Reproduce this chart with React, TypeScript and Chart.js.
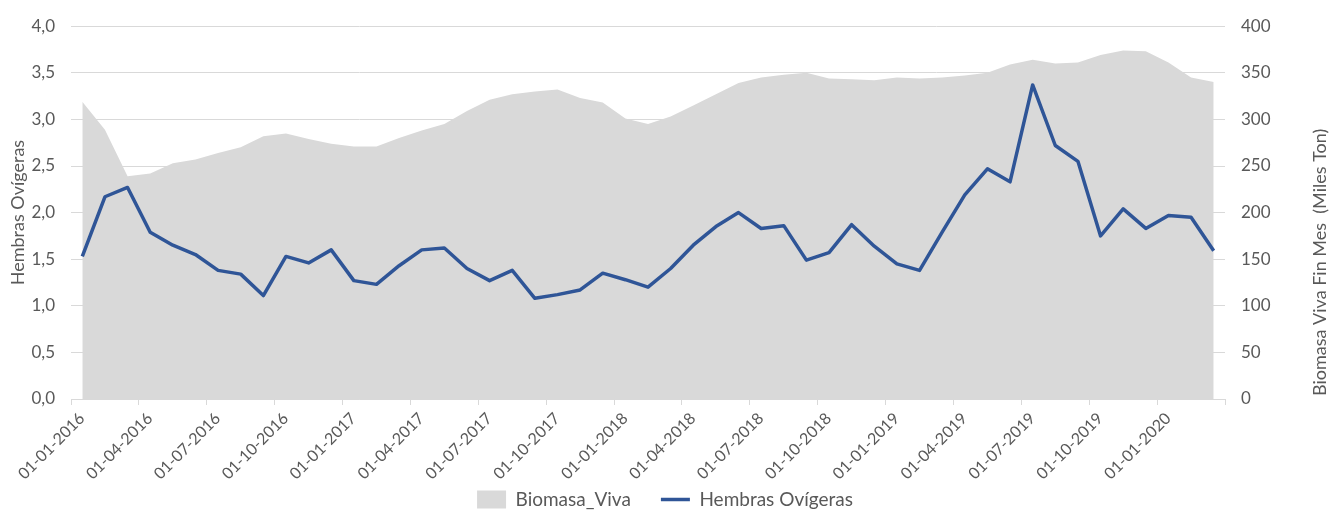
import React, { useEffect, useRef } from 'react';
import { Chart, registerables } from 'chart.js';

Chart.register(...registerables);

const months = [
  '01-01-2016', '01-02-2016', '01-03-2016', '01-04-2016', '01-05-2016', '01-06-2016',
  '01-07-2016', '01-08-2016', '01-09-2016', '01-10-2016', '01-11-2016', '01-12-2016',
  '01-01-2017', '01-02-2017', '01-03-2017', '01-04-2017', '01-05-2017', '01-06-2017',
  '01-07-2017', '01-08-2017', '01-09-2017', '01-10-2017', '01-11-2017', '01-12-2017',
  '01-01-2018', '01-02-2018', '01-03-2018', '01-04-2018', '01-05-2018', '01-06-2018',
  '01-07-2018', '01-08-2018', '01-09-2018', '01-10-2018', '01-11-2018', '01-12-2018',
  '01-01-2019', '01-02-2019', '01-03-2019', '01-04-2019', '01-05-2019', '01-06-2019',
  '01-07-2019', '01-08-2019', '01-09-2019', '01-10-2019', '01-11-2019', '01-12-2019',
  '01-01-2020', '01-02-2020', '01-03-2020',
];

const tickLabels = [
  '01-01-2016', '01-04-2016', '01-07-2016', '01-10-2016',
  '01-01-2017', '01-04-2017', '01-07-2017', '01-10-2017',
  '01-01-2018', '01-04-2018', '01-07-2018', '01-10-2018',
  '01-01-2019', '01-04-2019', '01-07-2019', '01-10-2019',
  '01-01-2020',
];

const hembras = [
  1.53, 2.17, 2.27, 1.79, 1.65, 1.55, 1.38, 1.34, 1.11, 1.53,
  1.46, 1.60, 1.27, 1.23, 1.43, 1.60, 1.62, 1.40, 1.27, 1.38,
  1.08, 1.12, 1.17, 1.35, 1.28, 1.20, 1.40, 1.65, 1.85, 2.00,
  1.83, 1.86, 1.49, 1.57, 1.87, 1.64, 1.45, 1.38, 1.79, 2.19,
  2.47, 2.33, 3.37, 2.72, 2.55, 1.75, 2.04, 1.83, 1.97, 1.95, 1.59,
];

const biomasa = [
  319, 289, 239, 242, 253, 257, 264, 270, 282, 285,
  279, 274, 271, 271, 280, 288, 295, 309, 321, 327,
  330, 332, 323, 318, 301, 295, 303, 315, 327, 339,
  345, 348, 350, 344, 343, 342, 345, 344, 345, 347,
  350, 359, 364, 360, 361, 369, 374, 373, 361, 345, 340,
];

const LEFT_TITLE = 'Hembras Ovígeras';
const RIGHT_TITLE = 'Biomasa Viva Fin Mes  (Miles Ton)';
const TEXT = '#595959';
const GRID = '#D9D9D9';
const AREA = '#D9D9D9';
const BLUE = '#2F5597';
const FONT = 'Lato';

export default function App() {
  const ref = useRef<HTMLCanvasElement>(null);

  useEffect(() => {
    if (!ref.current) return;
    const rightTitle = {
      id: 'rightTitle',
      afterDraw(chart: any) {
        const { ctx, chartArea } = chart;
        const s = chart.scales.y1;
        ctx.save();
        ctx.font = `18px ${FONT}`;
        ctx.fillStyle = TEXT;
        ctx.translate(s.right - 10, chartArea.bottom - 3);
        ctx.rotate(-Math.PI / 2);
        ctx.textAlign = 'left';
        ctx.textBaseline = 'middle';
        ctx.fillText(RIGHT_TITLE, 0, 0);
        ctx.restore();
      },
    };

    const chart = new Chart(ref.current, {
      type: 'line',
      data: {
        datasets: [
          {
            label: 'Biomasa_Viva',
            data: months.map((_, i) => ({ x: i, y: biomasa[i] })),
            yAxisID: 'y1',
            backgroundColor: AREA,
            borderColor: 'rgba(0,0,0,0)',
            borderWidth: 0,
            fill: 'origin',
            pointRadius: 0,
            pointStyle: 'rect',
          },
          {
            label: 'Hembras Ovígeras',
            data: months.map((_, i) => ({ x: i, y: hembras[i] })),
            yAxisID: 'y',
            borderColor: BLUE,
            backgroundColor: BLUE,
            borderWidth: 3.5,
            borderJoinStyle: 'round',
            fill: false,
            pointRadius: 0,
            pointStyle: 'line',
            tension: 0,
          },
        ],
      },
      options: {
        responsive: false,
        animation: false,
        events: [],
        layout: { padding: { top: 20, left: 0, right: 0, bottom: -7 } },
        plugins: {
          filler: { drawTime: 'beforeDatasetsDraw' },
          tooltip: { enabled: false },
          legend: {
            position: 'bottom',
            labels: {
              usePointStyle: true,
              pointStyleWidth: 29,
              boxWidth: 29,
              boxHeight: 18,
              padding: 30,
              color: TEXT,
              font: { family: FONT, size: 19 },
            },
          },
        },
        scales: {
          x: {
            type: 'linear',
            min: -0.5,
            max: months.length - 0.5,
            afterBuildTicks: (axis: any) => {
              axis.ticks = [
                ...tickLabels.map((l) => ({ value: months.indexOf(l) - 0.5 })),
                { value: months.length - 0.5 },
              ];
            },
            afterFit: (axis: any) => {
              axis.height = 61;
            },
            afterUpdate: (axis: any) => {
              // let the rotated labels run below the axis box, as in the reference
              axis._computeLabelArea = () => undefined;
            },
            grid: {
              drawOnChartArea: false,
              color: GRID,
              tickLength: 6,
            },
            border: { display: true, color: GRID },
            ticks: {
              autoSkip: false,
              maxRotation: 45,
              minRotation: 45,
              padding: 4,
              labelOffset: 11,
              color: TEXT,
              font: { family: FONT, size: 16 },
              callback: (_v: any, index: number) => tickLabels[index] ?? '',
            },
          },
          y: {
            position: 'left',
            min: 0,
            max: 4,
            afterFit: (axis: any) => {
              axis.width = 71;
            },
            grid: { color: GRID, drawTicks: false },
            border: { display: false },
            ticks: {
              stepSize: 0.5,
              padding: 16,
              color: TEXT,
              font: { family: FONT, size: 17 },
              callback: (v: any) => Number(v).toFixed(1).replace('.', ','),
            },
            title: {
              display: true,
              text: LEFT_TITLE,
              color: TEXT,
              font: { family: FONT, size: 18 },
              padding: { top: 7, bottom: 0 },
            },
          },
          y1: {
            position: 'right',
            min: 0,
            max: 400,
            afterFit: (axis: any) => {
              axis.width = 105;
            },
            grid: { display: false, drawTicks: false },
            border: { display: false },
            ticks: {
              stepSize: 50,
              padding: 16,
              color: TEXT,
              font: { family: FONT, size: 17 },
            },
          },
        },
      },
      plugins: [rightTitle],
    } as any);

    return () => chart.destroy();
  }, []);

  return (
    <div style={{ position: 'fixed', left: 0, top: 0, width: 1330, height: 512, background: '#fff' }}>
      <canvas ref={ref} width={1330} height={512} />
    </div>
  );
}
